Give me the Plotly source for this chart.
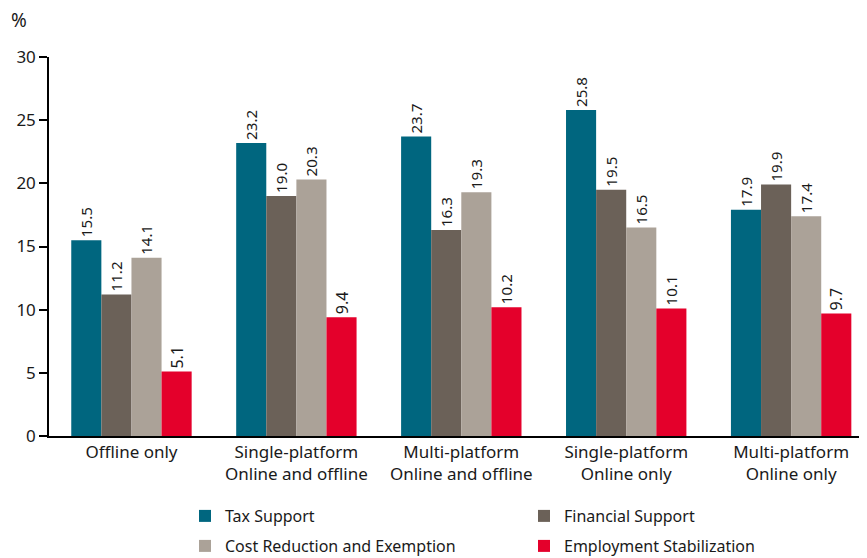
import plotly.graph_objects as go

categories = ["Offline only", "Single-platform<br>Online and offline", "Multi-platform<br>Online and offline",
              "Single-platform<br>Online only", "Multi-platform<br>Online only"]
series_names = ["Tax Support", "Financial Support", "Cost Reduction and Exemption", "Employment Stabilization"]
tax_support = [15.5, 23.2, 23.7, 25.8, 17.9]
financial_support = [11.2, 19.0, 16.3, 19.5, 19.9]
cost_reduction = [14.1, 20.3, 19.3, 16.5, 17.4]
employment_stab = [5.1, 9.4, 10.2, 10.1, 9.7]
colors = ["#00667f", "#6b6158", "#aba298", "#e4002b"]
y_ticks = [0, 5, 10, 15, 20, 25, 30]

font_family = "Noto Sans, DejaVu Sans, sans-serif"
OFF = 8  # page body margin offset
W, H = 867 - OFF, 558 - OFF
L, T = 49 - OFF, 57 - OFF
R = 0
B = H - (436 - OFF)
pw, ph = W - L - R, H - T - B


def px_x(x):
    return (x - OFF - L) / pw


def px_y(y):
    return 1 - (y - OFF - T) / ph


fig = go.Figure()
legends = ["legend", "legend", "legend2", "legend2"]
for name, vals, col, lg in zip(series_names, [tax_support, financial_support, cost_reduction, employment_stab], colors, legends):
    fig.add_trace(go.Bar(
        name=name, x=categories, y=vals, marker=dict(color=col, line=dict(width=0)),
        text=[f"{v:.1f}" for v in vals], textposition="outside", textangle=-90,
        textfont=dict(size=16, color="#1a1a1a", family=font_family), cliponaxis=False,
        legend=lg,
    ))

leg_common = dict(orientation="h", xanchor="left", yanchor="top",
                  entrywidth=294, entrywidthmode="pixels", itemwidth=30,
                  font=dict(size=16, family=font_family, color="#1a1a1a"),
                  bgcolor="rgba(0,0,0,0)")
fig.update_layout(
    width=W, height=H,
    margin=dict(l=L, r=R, t=T, b=B, autoexpand=False),
    paper_bgcolor="white", plot_bgcolor="white",
    barmode="group", bargap=0.27, bargroupgap=0,
    font=dict(family=font_family, size=16, color="#1a1a1a"),
    showlegend=True,
    legend=dict(x=px_x(185), y=px_y(499), **leg_common),
    legend2=dict(x=px_x(185), y=px_y(529), **leg_common),
    xaxis=dict(range=[-0.5, 4.46], showline=True, linecolor="black", linewidth=1.5,
               ticks="", tickfont=dict(size=17), showgrid=False, automargin=False),
    yaxis=dict(range=[0, 30], tickvals=y_ticks, showline=True, linecolor="black", linewidth=1.5,
               ticks="outside", ticklen=8, tickcolor="black", tickwidth=1.5, showgrid=False,
               zeroline=False, tickfont=dict(size=17), automargin=False),
    annotations=[dict(text="%", x=px_x(19), y=px_y(20), xref="paper", yref="paper",
                      showarrow=False, xanchor="center", yanchor="middle", font=dict(size=19))],
)
fig.write_html("out.html")
